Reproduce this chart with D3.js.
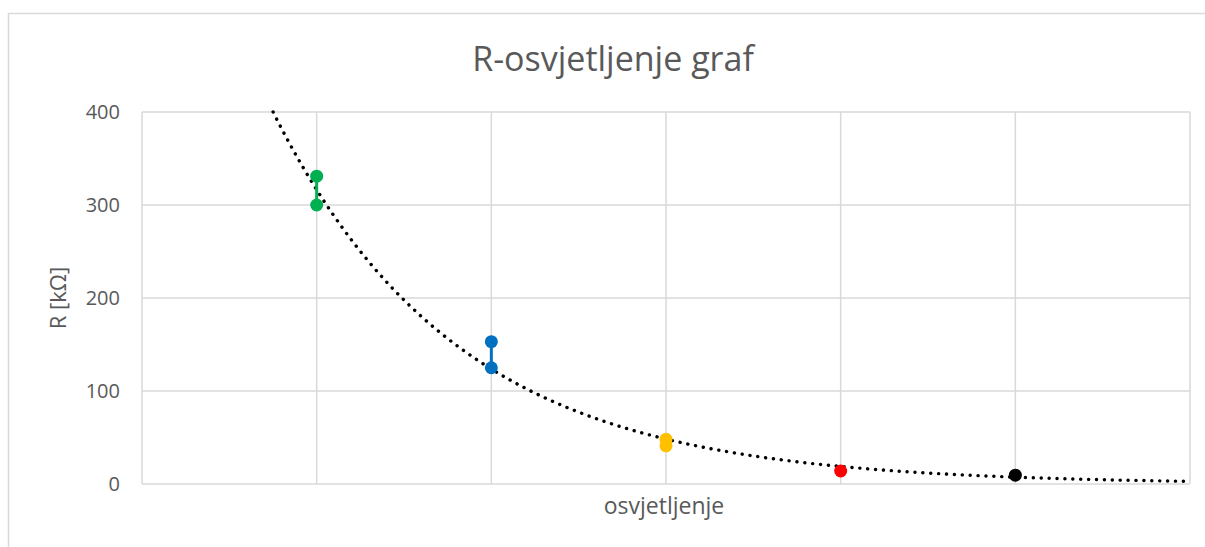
<!DOCTYPE html>
<html>
<head>
<meta charset="utf-8">
<script src="https://cdn.jsdelivr.net/npm/d3@7"></script>
<style>
	body { margin: 0; background: #fff; }
	text { font-family: "Open Sans", "Noto Sans", sans-serif; fill: #595959; }
</style>
</head>
<body>
<script>
	const width = 1205;
	const height = 547;

	// Serije (osvjetljenje, R u kΩ)
	const seriesNames = ["zelena", "plava", "zuta", "crvena", "crna"];
	const seriesColors = ["#00b050", "#0070c0", "#ffc000", "#ff0000", "#000000"];
	const seriesX = [1, 2, 3, 4, 5];
	const seriesValues = [
		[331, 300],
		[153, 125],
		[48, 41],
		[14],
		[9.5]
	];
	const yTicks = [0, 100, 200, 300, 400];
	const xTicks = [0, 1, 2, 3, 4, 5, 6];

	const margin = { left: 142, right: 15, top: 112, bottom: 63 };

	const scaleX = d3.scaleLinear().domain([0, 6]).range([margin.left, width - margin.right]);
	const scaleY = d3.scaleLinear().domain([0, 400]).range([height - margin.bottom, margin.top]);

	const svg = d3.select("body")
		.append("svg")
		.attr("width", width)
		.attr("height", height);

	// okvir grafa
	svg.append("rect")
		.attr("x", 8.5)
		.attr("y", 13.5)
		.attr("width", width + 10)
		.attr("height", height + 10)
		.attr("fill", "none")
		.attr("stroke", "#d9d9d9")
		.attr("stroke-width", 1.5);

	// mreza
	svg.append("g")
		.selectAll("line.h")
		.data(yTicks)
		.join("line")
		.attr("x1", scaleX(0))
		.attr("x2", scaleX(6))
		.attr("y1", d => scaleY(d))
		.attr("y2", d => scaleY(d))
		.attr("stroke", "#d9d9d9")
		.attr("stroke-width", 1.5);

	svg.append("g")
		.selectAll("line.v")
		.data(xTicks)
		.join("line")
		.attr("x1", d => scaleX(d))
		.attr("x2", d => scaleX(d))
		.attr("y1", scaleY(0))
		.attr("y2", scaleY(400))
		.attr("stroke", "#d9d9d9")
		.attr("stroke-width", 1.5);

	// y os
	const yAxis = svg.append("g")
		.attr("transform", `translate(${margin.left - 22},0)`)
		.call(d3.axisLeft(scaleY).tickValues(yTicks).tickSize(0).tickPadding(0));
	yAxis.select(".domain").remove();
	yAxis.selectAll("text")
		.attr("font-size", 20)
		.attr("fill", "#595959")
		.style("font-family", "'Open Sans', sans-serif");

	// naslovi
	svg.append("text")
		.attr("x", 613)
		.attr("y", 71)
		.attr("text-anchor", "middle")
		.attr("font-size", 34)
		.text("R-osvjetljenje graf");

	svg.append("text")
		.attr("transform", `translate(66, ${scaleY(200)}) rotate(-90)`)
		.attr("text-anchor", "middle")
		.attr("font-size", 22)
		.text("R [kΩ]");

	svg.append("text")
		.attr("x", scaleX(3) - 2)
		.attr("y", 514)
		.attr("text-anchor", "middle")
		.attr("font-size", 23)
		.text("osvjetljenje");

	// eksponencijalni trend (najmanji kvadrati na ln R)
	const pts = [];
	seriesValues.forEach((vals, i) => vals.forEach(v => pts.push([seriesX[i], v])));
	const mx = d3.mean(pts, p => p[0]);
	const my = d3.mean(pts, p => Math.log(p[1]));
	const b = d3.sum(pts, p => (p[0] - mx) * (Math.log(p[1]) - my)) / d3.sum(pts, p => (p[0] - mx) ** 2);
	const a = Math.exp(my - b * mx);
	const xStart = Math.log(400 / a) / b;
	const trend = d3.range(xStart, 6.0001, 0.02).concat([6]).map(x => [x, a * Math.exp(b * x)]);

	svg.append("path")
		.datum(trend)
		.attr("fill", "none")
		.attr("stroke", "#000")
		.attr("stroke-width", 3.4)
		.attr("stroke-linecap", "round")
		.attr("stroke-dasharray", "0.1 7.8")
		.attr("d", d3.line().x(d => scaleX(d[0])).y(d => scaleY(d[1])));

	// serije
	seriesValues.forEach((vals, i) => {
		const g = svg.append("g").attr("class", seriesNames[i]);
		g.append("path")
			.datum(vals)
			.attr("fill", "none")
			.attr("stroke", seriesColors[i])
			.attr("stroke-width", 3)
			.attr("d", d3.line().x(() => scaleX(seriesX[i])).y(d => scaleY(d)));
		g.selectAll("circle")
			.data(vals)
			.join("circle")
			.attr("cx", scaleX(seriesX[i]))
			.attr("cy", d => scaleY(d))
			.attr("r", 6.5)
			.attr("fill", seriesColors[i]);
	});
</script>
</body>
</html>
